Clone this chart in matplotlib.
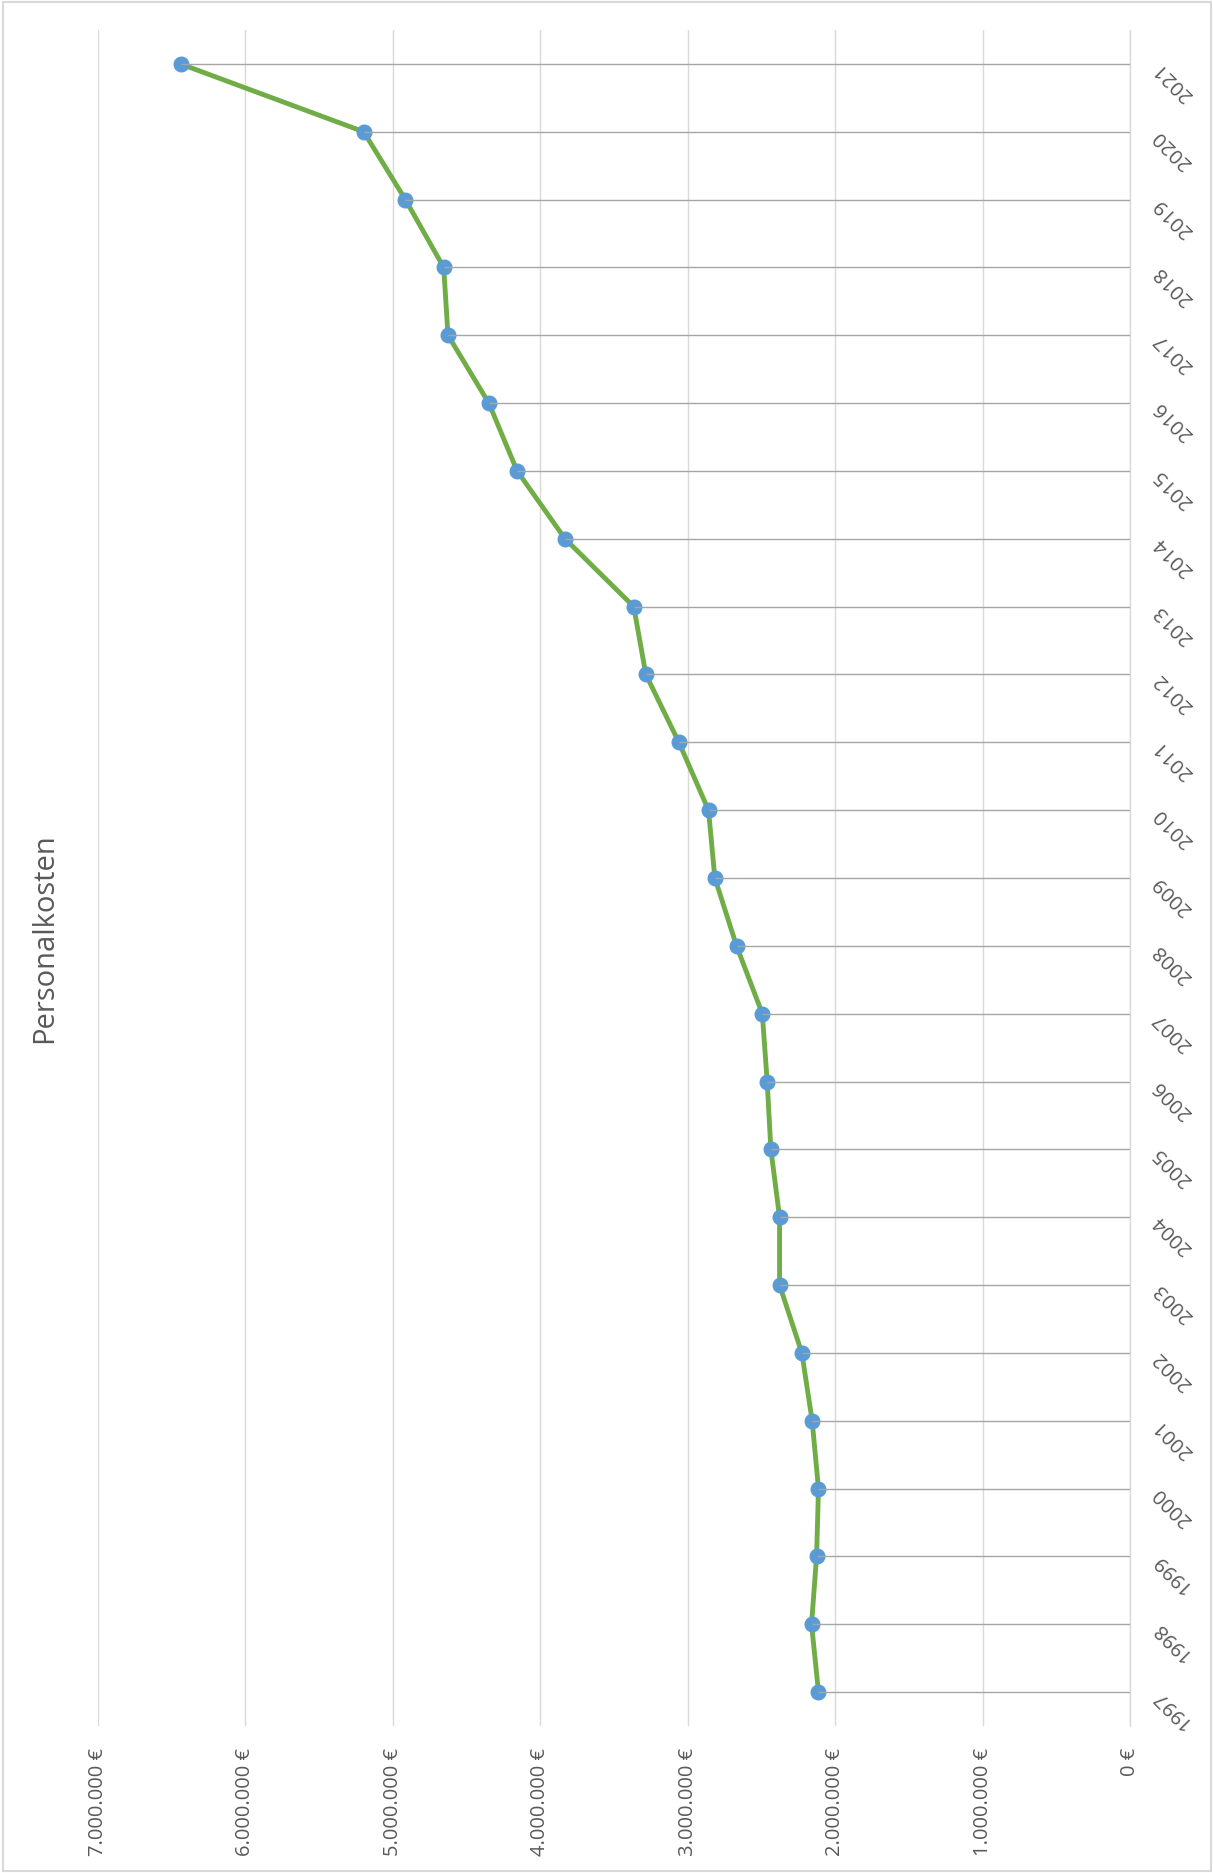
import matplotlib
matplotlib.use("Agg")
import matplotlib.pyplot as plt
from matplotlib.patches import Rectangle
from matplotlib.ticker import FuncFormatter

# ── Data (Personalkosten per year, in €) ─────────────────────────────────────
years = [1997, 1998, 1999, 2000, 2001, 2002, 2003, 2004, 2005, 2006, 2007, 2008, 2009,
         2010, 2011, 2012, 2013, 2014, 2015, 2016, 2017, 2018, 2019, 2020, 2021]
costs = [2113000, 2160000, 2126000, 2113000, 2156000, 2226000, 2377000, 2377000,
         2436000, 2461000, 2494000, 2669000, 2816000, 2859000, 3060000, 3284000,
         3366000, 3832000, 4157000, 4349000, 4626000, 4655000, 4915000, 5198000, 6440000]
value_ticks = [0, 1000000, 2000000, 3000000, 4000000, 5000000, 6000000, 7000000]
title = "Personalkosten"

TXT = "#595959"
GRID = "#D9D9D9"
plt.rcParams["font.family"] = ["Open Sans", "DejaVu Sans"]

W, H = 1213, 1874
fig = plt.figure(figsize=(W / 100, H / 100), dpi=100)
fig.patch.set_facecolor("white")

# axes box in pixels: x 98..1130, y 31..1727
ax = fig.add_axes([98 / W, 1 - 1727 / H, (1130 - 98) / W, (1727 - 31) / H])

ax.set_xlim(7000000, 0)
ax.set_ylim(years[0] - 0.5, years[-1] + 0.5)

# value gridlines
ax.set_xticks(value_ticks)
ax.grid(axis="x", color=GRID, lw=1.0, zorder=0)
ax.set_axisbelow(True)

# series line + markers
ax.plot(costs, years, color="#70AD47", lw=3.5, marker="o", ms=10.5,
        mfc="#5B9BD5", mec="#5B9BD5", zorder=3, solid_capstyle="round")
# drop lines to category axis
ax.hlines(years, 0, costs, color="#A6A6A6", lw=1.0, zorder=4)

for side in ["top", "left", "bottom"]:
    ax.spines[side].set_visible(False)
ax.spines["right"].set_color(GRID)
ax.spines["right"].set_linewidth(1.0)

ax.xaxis.set_major_formatter(FuncFormatter(lambda v, p: f"{int(v):,}".replace(",", ".") + " €"))
ax.tick_params(axis="x", length=0, pad=15, labelsize=14.5, labelcolor=TXT, labelrotation=90)

ax.set_yticks(years)
ax.set_yticklabels([str(y) for y in years])
ax.yaxis.tick_right()
ax.tick_params(axis="y", length=0, pad=19, labelsize=14.5, labelcolor=TXT)
for lbl in ax.get_yticklabels():
    lbl.set_rotation(135)
    lbl.set_ha("right")
    lbl.set_va("center")
    lbl.set_rotation_mode("anchor")

fig.text(45 / W, 1 - 938 / H, title, rotation=90, ha="center", va="center",
         fontsize=21, color=TXT)

# chart border
fig.patches.append(Rectangle((3 / W, 2 / H), (W - 5) / W, (H - 5) / H, transform=fig.transFigure,
                             fill=False, edgecolor=GRID, lw=1.5))

plt.savefig("out.png", dpi=100, facecolor="white")
